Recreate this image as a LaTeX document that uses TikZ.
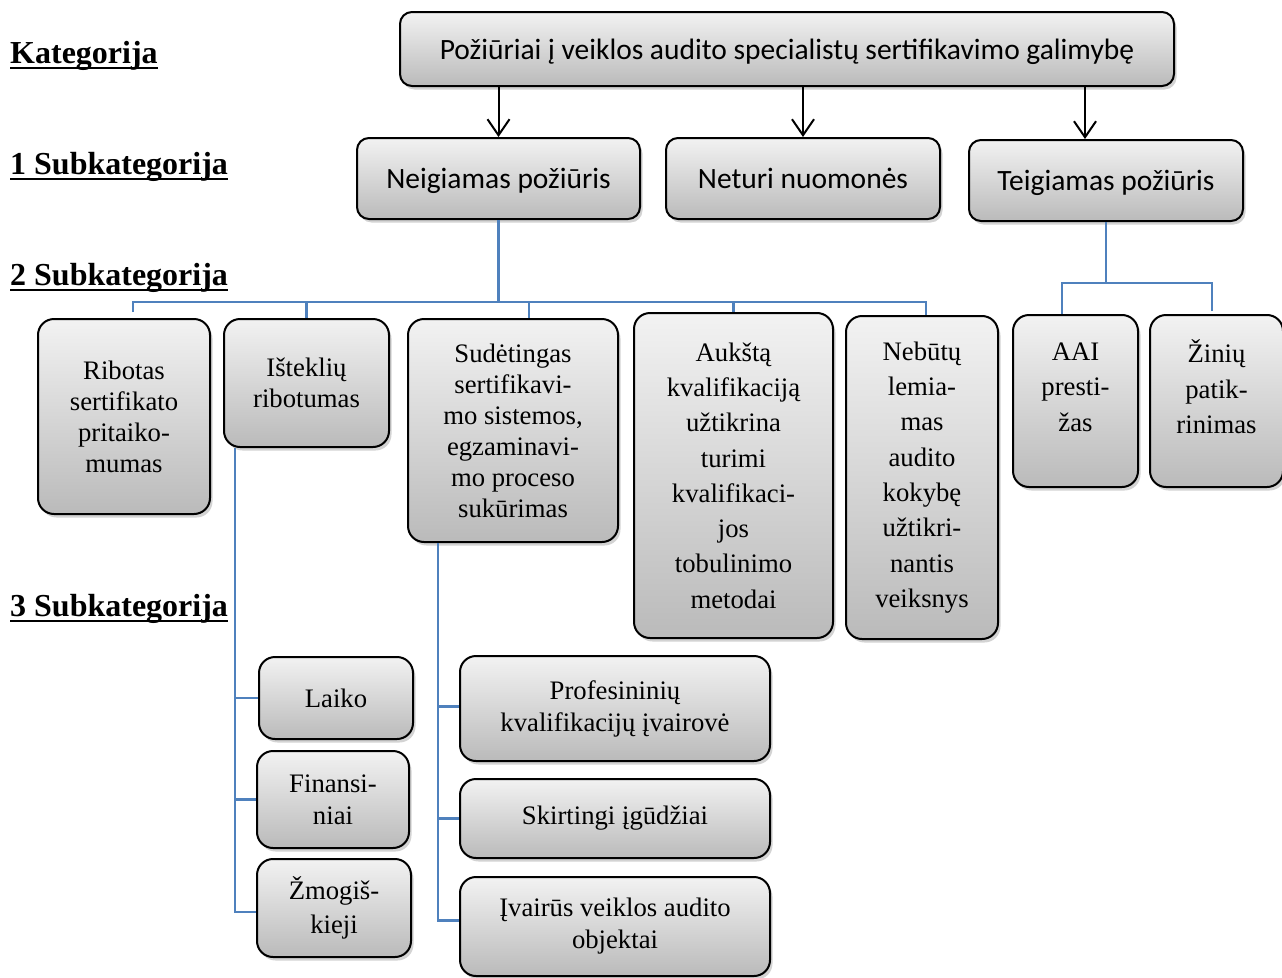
\documentclass[tikz,border=0pt]{standalone}
\usepackage{fontspec}
\setmainfont{Liberation Serif}
\newfontfamily\calibri{Carlito}
\usetikzlibrary{arrows.meta,shadows}
\definecolor{linkblue}{HTML}{4F81BD}
\begin{document}
\begin{tikzpicture}[x=1pt,y=-1pt,
  box/.style={draw=black, line width=2pt, rounded corners=16pt,
    top color=black!5, bottom color=black!27,
    drop shadow={shadow xshift=2.5pt, shadow yshift=-3.5pt, opacity=0.35},
    align=center, inner sep=0pt, text=black},
  sansbox/.style={box, rounded corners=12pt, text depth=0pt, font=\calibri\fontsize{29.5}{34}\selectfont},
  ls31/.style={font=\fontsize{26.7}{31}\selectfont},
  ls32/.style={font=\fontsize{26.7}{32}\selectfont},
  ls34/.style={font=\fontsize{26.7}{34}\selectfont},
  ls35/.style={font=\fontsize{26.7}{35.3}\selectfont},
  inlabel/.style={font=\fontsize{26.7}{35.5}\selectfont, align=center, inner sep=0pt, text=black},
  arr/.style={draw=black, line width=2pt, -{Straight Barb[length=16pt,width=22pt,line width=2pt]}},
  link/.style={draw=linkblue, line width=2.2pt, line join=miter},
  heading/.style={font=\fontsize{32}{38}\selectfont\bfseries, anchor=base west, inner sep=0pt},
  uline/.style={line width=2.4pt}]
\useasboundingbox (0,0) rectangle (1282,977);
\clip (0,0) rectangle (1282,977);

% category and first level
\node[sansbox, minimum width=774pt, minimum height=74pt] (root) at (787,49)
  {Požiūriai į veiklos audito specialistų sertifikavimo galimybę};
\node[sansbox, minimum width=283pt, minimum height=81pt] (neg) at (498.5,178.5) {Neigiamas požiūris};
\node[sansbox, minimum width=274pt, minimum height=81pt] (neu) at (803,178.5) {Neturi nuomonės};
\node[sansbox, minimum width=274pt, minimum height=81pt] (pos) at (1106,180.5) {Teigiamas požiūris};

\coordinate (pin) at ([xshift=-21pt]pos.north);
\draw[arr] (root.south -| neg.north) -- (neg.north);
\draw[arr] (root.south -| neu.north) -- (neu.north);
\draw[arr] (root.south -| pin) -- (pin);

% second level
\node[box, ls31, minimum width=172pt, minimum height=195pt] (rib) at (124,416.5)
  {Ribotas\\sertifikato\\pritaiko-\\mumas};
\node[box, ls31, minimum width=165pt, minimum height=128pt] (ist) at (306.5,383)
  {Išteklių\\ribotumas};
\node[box, ls31, minimum width=210pt, minimum height=223pt] (sud) at (513,430.5)
  {Sudėtingas\\sertifikavi-\\mo sistemos,\\egzaminavi-\\mo proceso\\sukūrimas};
\node[box, ls35, minimum width=199pt, minimum height=325pt] (auk) at (733.5,475.5)
  {Aukštą\\kvalifikaciją\\užtikrina\\turimi\\kvalifikaci-\\jos\\tobulinimo\\metodai};
\node[box, ls35, minimum width=152pt, minimum height=323pt] (neb) at (922,477.5)
  {Nebūtų\\lemia-\\mas\\audito\\kokybę\\užtikri-\\nantis\\veiksnys};
\node[box, minimum width=125pt, minimum height=172pt,
  label={[inlabel, yshift=14pt]center:{AAI\\presti-\\žas}}] (aai) at (1075.5,401) {};
\node[box, minimum width=133pt, minimum height=172pt,
  label={[inlabel, yshift=14pt]center:{Žinių\\patik-\\rinimas}}] (zin) at (1216.5,401) {};

% third level
\node[box, ls31, minimum width=154pt, minimum height=82pt] (lai) at (336,698) {Laiko};
\node[box, ls32, minimum width=152pt, minimum height=97pt] (fin) at (333,799.5) {Finansi-\\niai};
\node[box, ls34, minimum width=154pt, minimum height=98pt] (zmo) at (334,908) {Žmogiš-\\kieji};
\node[box, ls32, minimum width=310pt, minimum height=105pt] (pro) at (615,708.5)
  {Profesininių\\kvalifikacijų įvairovė};
\node[box, ls31, minimum width=310pt, minimum height=79pt] (ski) at (615,818.5) {Skirtingi įgūdžiai};
\node[box, ls32, minimum width=310pt, minimum height=99pt] (ivr) at (615,926.5)
  {Įvairūs veiklos audito\\objektai};

% connectors under the negative view
\path (neg.south) ++(0,82) coordinate (bus);
\draw[link] (neg.south) -- (bus);
\draw[link] ([xshift=9pt,yshift=6pt]rib.north) |- (bus);
\draw[link] (ist.north) |- (bus);
\draw[link] ([xshift=16pt]sud.north) |- (bus);
\draw[link] (auk.north) |- (bus);
\draw[link] ([xshift=4pt]neb.north) |- (bus);

% connectors under the positive view
\path (pos.south) ++(0,61) coordinate (pbus);
\draw[link] (pos.south) -- (pbus);
\draw[link] ([xshift=-13.5pt]aai.north) |- (pbus);
\draw[link] ([xshift=-4.5pt,yshift=3pt]zin.north) |- (pbus);

% third level branches
\coordinate (istdrop) at ([xshift=12pt]ist.south west);
\draw[link] (istdrop) |- ([yshift=-4pt]zmo.west);
\draw[link] (istdrop) |- (lai.west);
\draw[link] (istdrop) |- (fin.west);
\coordinate (suddrop) at ([xshift=31pt]sud.south west);
\draw[link] (suddrop) |- ([yshift=6pt]ivr.west);
\draw[link] (suddrop) |- ([yshift=2pt]pro.west);
\draw[link] (suddrop) |- (ski.west);

% level headings
\node[heading] (h0) at (10,63) {Kategorija};
\node[heading] (h1) at (10,174) {1 Subkategorija};
\node[heading] (h2) at (10,285) {2 Subkategorija};
\node[heading] (h3) at (10,616) {3 Subkategorija};
\foreach \h in {h0,h1,h2,h3}
  \draw[uline] ([yshift=-5pt]\h.base west) -- ([yshift=-5pt]\h.base east);
\end{tikzpicture}
\end{document}
